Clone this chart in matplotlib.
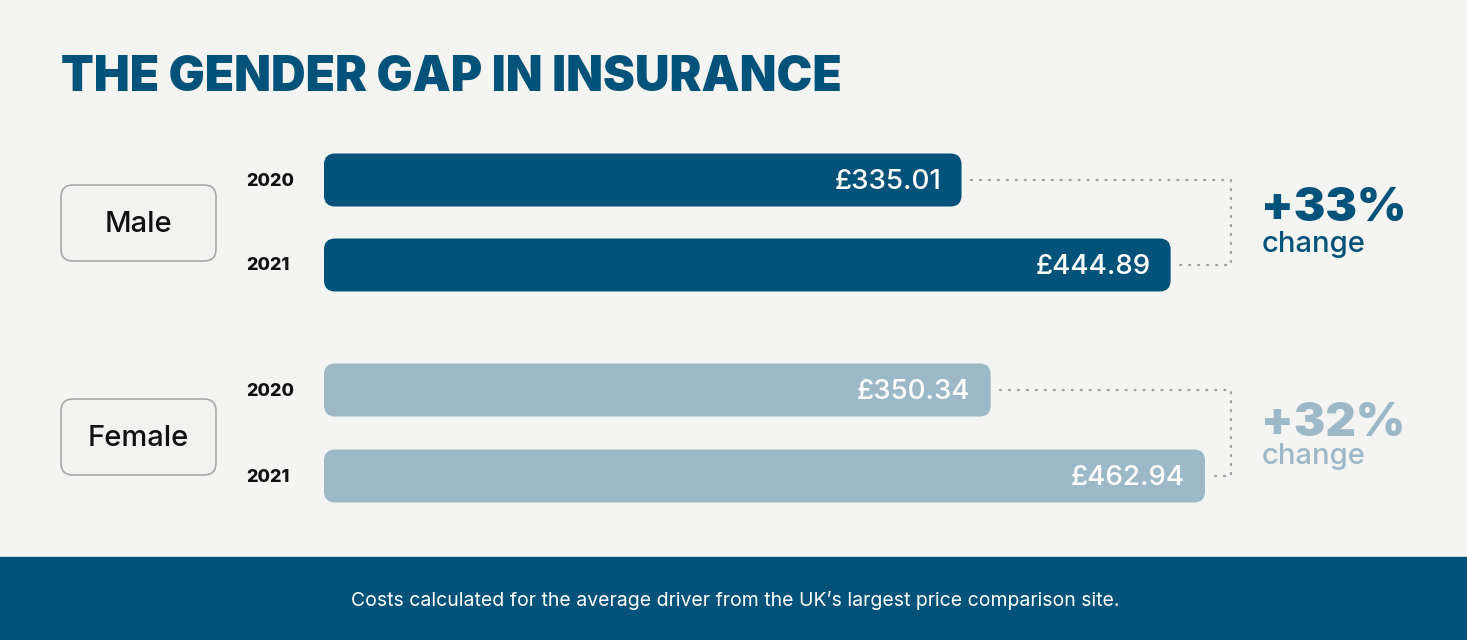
import matplotlib.pyplot as plt
from matplotlib.patches import FancyBboxPatch, Rectangle

plt.rcParams['font.family'] = ['Inter', 'DejaVu Sans']

# data
groups = ['Male', 'Female']
years = ['2020', '2021']
male_costs = [335.01, 444.89]
female_costs = [350.34, 462.94]
changes = ['+33%', '+32%']
title = 'THE GENDER GAP IN INSURANCE'
footer = "Costs calculated for the average driver from the UK\u2019s largest price comparison site."

dark = '#03527a'
light = '#9db9c8'
bg = '#f4f4f2'

W, H = 1467, 640
fig = plt.figure(figsize=(W / 100, H / 100), dpi=100)
fig.patch.set_facecolor(bg)

# background axes in pixel coordinates
bga = fig.add_axes([0, 0, 1, 1])
bga.set_xlim(0, W)
bga.set_ylim(H, 0)
bga.axis('off')
bga.add_patch(Rectangle((0, 557), W, 83, color=dark, zorder=1))
bga.text(735, 601, footer, color='white', fontsize=14, ha='center', va='center')
bga.text(61, 78, title, color=dark, fontsize=34.5, fontweight='black', ha='left', va='center')

# bar axes: x in pounds, y in pixel rows
px_per_unit = 1.903
x0 = 324
ax = fig.add_axes([x0 / W, 0, (W - x0) / W, 1])
ax.set_xlim(0, (W - x0) / px_per_unit)
ax.set_ylim(H, 0)
ax.axis('off')

centers = [[180, 265], [390, 476]]
box_centers = [223, 437]
pct_y = [209, 424]
chg_y = [244, 457]
bar_h = 53
line_x = (1231 - x0) / px_per_unit
gap = 9 / px_per_unit

for g, (name, costs, col, chg) in enumerate(zip(groups, [male_costs, female_costs],
                                                [dark, light], changes)):
    for i, (yr, v) in enumerate(zip(years, costs)):
        yc = centers[g][i]
        ax.add_patch(FancyBboxPatch((0, yc - bar_h / 2), v, bar_h,
                                    boxstyle='round,pad=0,rounding_size=%f' % (11 / px_per_unit),
                                    mutation_aspect=px_per_unit, fc=col, ec='none', zorder=3))
        ax.text(v - 20 / px_per_unit, yc + 2, '\u00a3%.2f' % v, color='white', fontsize=20,
                fontweight='medium', ha='right', va='center', zorder=4)
        bga.text(246, yc + 1, yr, color='#111111', fontsize=13, fontweight='heavy',
                 ha='left', va='center')
    # dotted connector
    a, b = costs
    y1, y2 = centers[g]
    ax.plot([a + gap, line_x, line_x, b + gap], [y1, y1, y2, y2], color='#a0a0a0',
            lw=1.7, ls=(0, (0.4, 3.4)), dash_capstyle='round', zorder=2)
    # category box
    bga.add_patch(FancyBboxPatch((61, box_centers[g] - 38), 155, 76,
                                 boxstyle='round,pad=0,rounding_size=12',
                                 fc='#f2f2f0', ec='#a9a9a9', lw=1.2, zorder=2))
    bga.text(138.5, box_centers[g] + 1, name, color='#111111', fontsize=21,
             fontweight='medium', ha='center', va='center', zorder=3)
    # change label
    bga.text(1261, pct_y[g], chg, color=col, fontsize=34, fontweight='black',
             ha='left', va='center')
    bga.text(1262, chg_y[g], 'change', color=col, fontsize=21, fontweight='medium',
             ha='left', va='center')

fig.savefig('out.png', dpi=100, facecolor=bg)
